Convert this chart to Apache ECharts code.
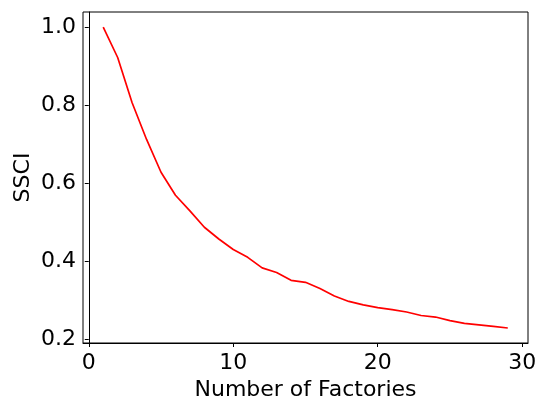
<!DOCTYPE html>
<html>
<head>
<meta charset="utf-8">
<script src="https://cdn.jsdelivr.net/npm/echarts@6/dist/echarts.min.js"></script>
<style>html,body{margin:0;padding:0;background:#fff;}#c{width:536px;height:401px;}</style>
</head>
<body>
<div id="c"></div>
<script>
const factories = [1,2,3,4,5,6,7,8,9,10,11,12,13,14,15,16,17,18,19,20,21,22,23,24,25,26,27,28,29];
const ssci = [1.0,0.922,0.806,0.712,0.628,0.569,0.529,0.487,0.457,0.430,0.410,0.383,0.371,0.351,0.346,0.330,0.311,0.297,0.288,0.281,0.276,0.270,0.261,0.257,0.248,0.241,0.237,0.233,0.229];
const xTicks = [0,10,20,30];
const yTicks = [0.2,0.4,0.6,0.8,1.0];

const font = 'DejaVu Sans';
const chart = echarts.init(document.getElementById('c'), null, {renderer:'canvas'});
chart.setOption({
  animation:false,
  backgroundColor:'#fff',
  grid:{left:83,top:12,width:445,height:331,show:true,borderColor:'#000',borderWidth:1,backgroundColor:'transparent',outerBoundsMode:'none',containLabel:false},
  xAxis:{
    type:'value',min:-0.4,max:30.4,
    name:'Number of Factories',nameLocation:'middle',nameGap:36,nameMoveOverlap:false,
    nameTextStyle:{fontFamily:font,fontSize:22,color:'#000'},
    axisLine:{show:true,lineStyle:{color:'#000',width:1}},
    axisTick:{show:true,inside:false,length:4,lineStyle:{color:'#000'},customValues:xTicks},
    axisLabel:{show:true,fontFamily:font,fontSize:22,color:'#000',margin:9,customValues:xTicks,formatter:v=>String(Math.round(v))},
    splitLine:{show:false}
  },
  yAxis:{
    type:'value',min:0.1905,max:1.0386,
    name:'SSCI',nameLocation:'middle',nameGap:49,nameRotate:90,nameMoveOverlap:false,
    nameTextStyle:{fontFamily:font,fontSize:22,color:'#000'},
    axisLine:{show:true,lineStyle:{color:'#000',width:1}},
    axisTick:{show:true,inside:false,length:4,lineStyle:{color:'#000'},customValues:yTicks},
    axisLabel:{show:true,fontFamily:font,fontSize:22,color:'#000',margin:7,padding:[4,0,0,0],customValues:yTicks,formatter:v=>v.toFixed(1)},
    splitLine:{show:false}
  },
  series:[{
    type:'line',
    data:factories.map((x,i)=>[x,ssci[i]]),
    showSymbol:false,symbol:'none',
    lineStyle:{color:'#ff0000',width:1.7},
    itemStyle:{color:'#ff0000'}
  }]
});
</script>
</body>
</html>
